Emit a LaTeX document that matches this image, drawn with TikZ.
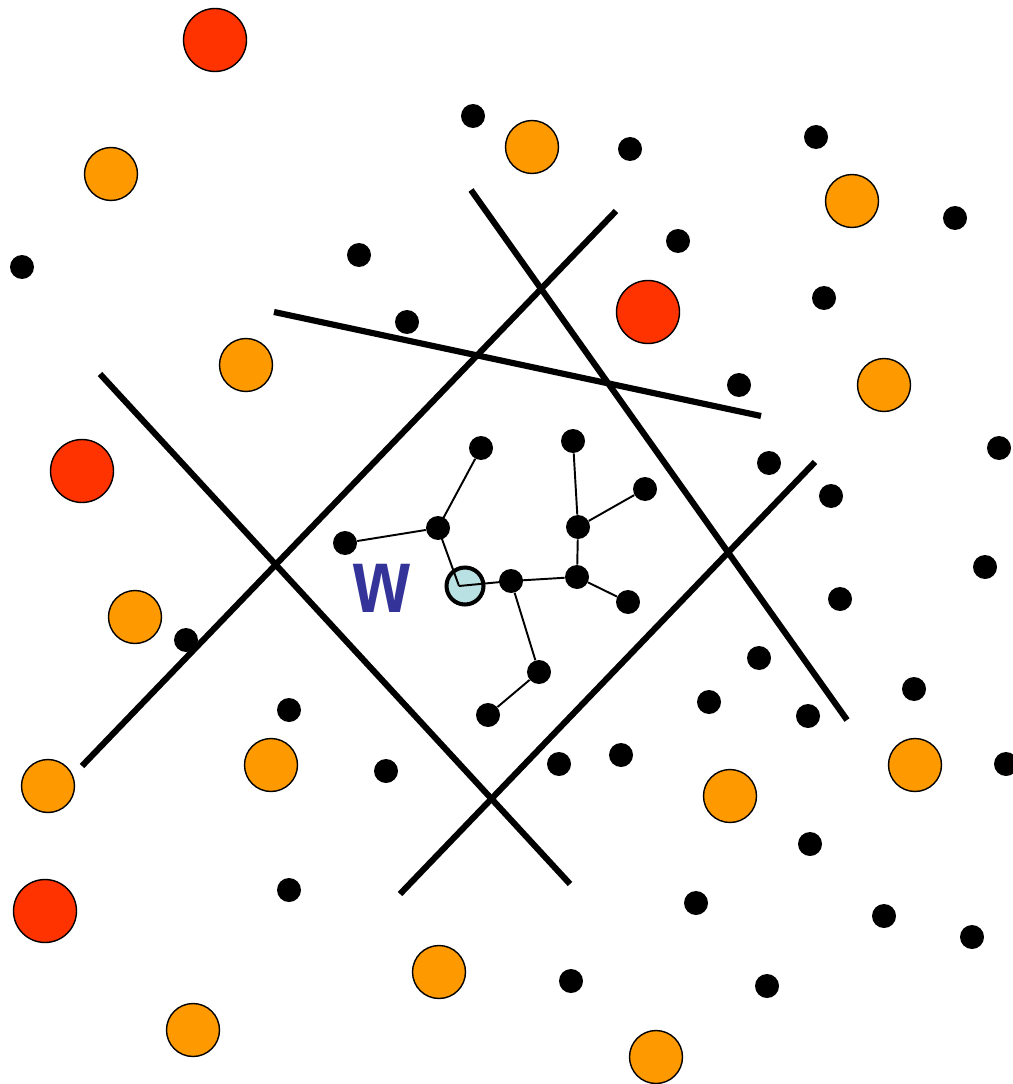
\documentclass[tikz,border=0pt]{standalone}
\usepackage{fontspec}
\newfontfamily\labelfont{Liberation Sans}
\definecolor{siteRed}{HTML}{FF3300}
\definecolor{siteOrange}{HTML}{FF9900}
\definecolor{rootBlue}{HTML}{B9E0E3}
\definecolor{labelBlue}{HTML}{333399}
\tikzset{
  dot/.style={circle,fill=black,inner sep=0pt,minimum size=0.48cm},
  redsite/.style={circle,draw=black,line width=0.8pt,fill=siteRed,inner sep=0pt,minimum size=1.26cm},
  orangesite/.style={circle,draw=black,line width=0.8pt,fill=siteOrange,inner sep=0pt,minimum size=1.06cm},
  rootsite/.style={circle,draw=black,line width=2.3pt,fill=rootBlue,inner sep=0pt,minimum size=0.74cm},
  cut/.style={line width=3.5pt},
  edge/.style={line width=1.1pt}
}
\begin{document}
\begin{tikzpicture}[x=0.02cm,y=-0.02cm]
  \useasboundingbox (0,0) rectangle (1013,1084);
  % separating lines
  \draw[cut] (471,190) -- (847,720);
  \draw[cut] (616,211) -- (82,766);
  \draw[cut] (274,312) -- (761,416);
  \draw[cut] (100,374) -- (570,884);
  \draw[cut] (815,462) -- (400,894);
  % big sites
  \foreach \x/\y in {215/40, 648/312, 82/471, 45/911}
    \node[redsite] at (\x,\y) {};
  \foreach \x/\y in {111/174, 532/147, 852/201, 246/365, 884/385, 135/617, 48/786,
                     271/765, 915/765, 730/796, 439/972, 193/1030, 656/1057}
    \node[orangesite] at (\x,\y) {};
  % scattered points
  \foreach \x/\y in {473/116, 630/149, 816/137, 955/218, 22/267, 359/255, 678/241,
                     407/322, 824/298, 739/385, 999/448, 769/463, 831/496, 985/567,
                     840/599, 186/640, 759/658, 709/702, 914/689, 808/716, 289/710,
                     386/771, 559/764, 621/755, 1006/764, 810/844, 696/903, 884/916,
                     972/937, 289/890, 571/981, 767/986}
    \node[dot] at (\x,\y) {};
  % tree around w
  \node[rootsite] (w) at (465,586) {};
  \coordinate (r) at (459,586);
  \node[dot] (a) at (438,528) {};
  \node[dot] (a1) at (481,448) {};
  \node[dot] (a2) at (345,543) {};
  \node[dot] (b) at (511,581) {};
  \node[dot] (c) at (577,577) {};
  \node[dot] (d) at (578,527) {};
  \node[dot] (d1) at (573,441) {};
  \node[dot] (d2) at (645,489) {};
  \node[dot] (c1) at (628,602) {};
  \node[dot] (e) at (539,672) {};
  \node[dot] (e1) at (488,715) {};
  \draw[edge] (r) -- (a.center) -- (a1);
  \draw[edge] (a) -- (a2);
  \draw[edge] (r) -- (b.center) -- (c);
  \draw[edge] (c) -- (d) -- (d1);
  \draw[edge] (d) -- (d2);
  \draw[edge] (c) -- (c1);
  \draw[edge] (b) -- (e) -- (e1);
  \node[text=labelBlue,font=\labelfont\bfseries\fontsize{52}{52}\selectfont,xscale=0.8,inner sep=0pt] (wlabel) at (382,588) {w};
\end{tikzpicture}
\end{document}
